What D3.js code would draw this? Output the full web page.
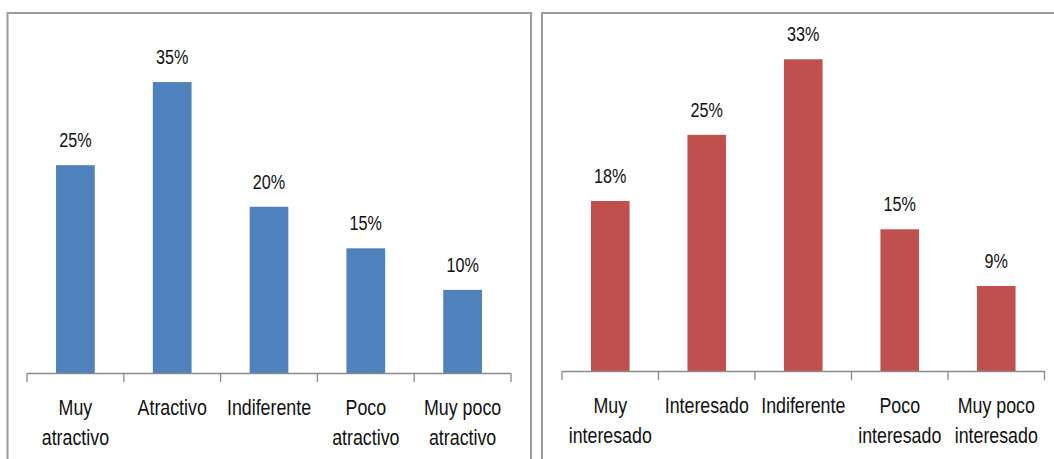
<!DOCTYPE html>
<html>
<head>
<meta charset="utf-8">
<script src="https://cdn.jsdelivr.net/npm/d3@7/dist/d3.min.js"></script>
<style>
  html, body { margin: 0; padding: 0; background: #fff; }
  svg { display: block; }
  text { font-family: "Liberation Sans", Arial, sans-serif; fill: #111; }
</style>
</head>
<body>
<svg id="chart" width="1054" height="459"></svg>
<script>
// Atractivo del producto
const attractCategories = ["Muy\natractivo", "Atractivo", "Indiferente", "Poco\natractivo", "Muy poco\natractivo"];
const attractValues = [0.25, 0.35, 0.20, 0.15, 0.10];

// Interés en el producto
const interestCategories = ["Muy\ninteresado", "Interesado", "Indiferente", "Poco\ninteresado", "Muy poco\ninteresado"];
const interestValues = [0.18, 0.25, 0.33, 0.15, 0.09];

const svg = d3.select("#chart");
const fmt = d3.format(".0%");
const narrow = 0.81; // horizontal squeeze for a condensed look

// panel frames
svg.append("rect")
  .attr("x", 7.5).attr("y", 13).attr("width", 523.5).attr("height", 470)
  .attr("fill", "none").attr("stroke", "#9c9c9c").attr("stroke-width", 2);
svg.append("rect")
  .attr("x", 542).attr("y", 13).attr("width", 540).attr("height", 470)
  .attr("fill", "none").attr("stroke", "#9c9c9c").attr("stroke-width", 2);

function drawPanel(cfg) {
  const g = svg.append("g");
  const x = d3.scaleBand()
    .domain(cfg.categories)
    .range([cfg.x0, cfg.x1])
    .paddingInner(0.6)
    .paddingOuter(0.3);
  const y = d3.scaleLinear().domain([0, cfg.max]).range([cfg.base, cfg.top]);
  const step = x.step();
  const cx = c => x(c) + x.bandwidth() / 2;

  // bars
  g.selectAll("rect.bar")
    .data(cfg.values)
    .join("rect")
    .attr("class", "bar")
    .attr("x", (d, i) => x(cfg.categories[i]))
    .attr("width", x.bandwidth())
    .attr("y", d => y(d))
    .attr("height", d => y(0) - y(d))
    .attr("fill", cfg.color);

  // value labels
  g.selectAll("text.val")
    .data(cfg.values)
    .join("text")
    .attr("class", "val")
    .attr("transform", (d, i) => `translate(${cx(cfg.categories[i])},${y(d) - 18}) scale(${narrow},1)`)
    .attr("text-anchor", "middle")
    .style("font-size", "20px")
    .text(d => fmt(d));

  // category axis: line plus boundary ticks
  const axisColor = "#8a8a8a";
  g.append("line")
    .attr("x1", cfg.x0).attr("x2", cfg.x1)
    .attr("y1", y(0) + 0.5).attr("y2", y(0) + 0.5)
    .attr("stroke", axisColor).attr("stroke-width", 1.3);
  const bounds = cfg.categories.map(c => x(c) - step * 0.3).concat([cfg.x1]);
  g.selectAll("line.tick")
    .data(bounds)
    .join("line")
    .attr("class", "tick")
    .attr("x1", d => d).attr("x2", d => d)
    .attr("y1", y(0)).attr("y2", y(0) + 9)
    .attr("stroke", axisColor).attr("stroke-width", 1.3);

  // category labels (wrapped)
  const labels = g.selectAll("text.cat")
    .data(cfg.categories)
    .join("text")
    .attr("class", "cat")
    .attr("transform", c => `translate(${cx(c)},${y(0) + 42}) scale(${narrow},1)`)
    .attr("text-anchor", "middle")
    .style("font-size", "22px");
  labels.each(function (c) {
    const t = d3.select(this);
    c.split("\n").forEach((line, i) => {
      t.append("tspan")
        .attr("x", 0)
        .attr("y", i * 30)
        .text(line);
    });
  });
}

drawPanel({
  categories: attractCategories, values: attractValues, color: "#4f81bd",
  x0: 27, x1: 511, base: 373, top: 40.5, max: 0.40
});
drawPanel({
  categories: interestCategories, values: interestValues, color: "#c0504d",
  x0: 562, x1: 1044.5, base: 371, top: 40.4, max: 0.35
});
</script>
</body>
</html>
